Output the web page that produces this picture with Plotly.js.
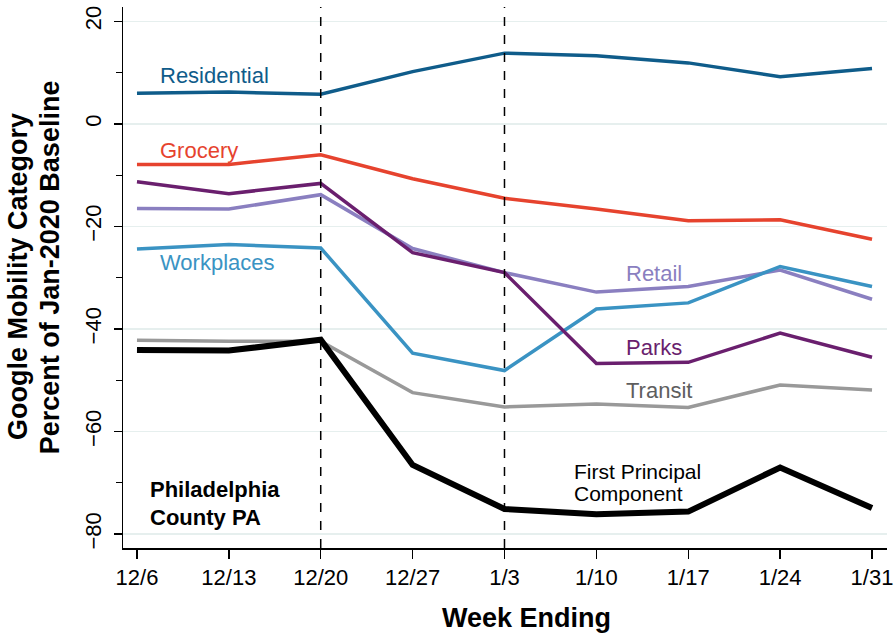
<!DOCTYPE html>
<html>
<head>
<meta charset="utf-8">
<script src="https://cdn.plot.ly/plotly-3.0.1.min.js"></script>
<style>html,body{margin:0;padding:0;background:#fff;}#chart{width:896px;height:636px;}</style>
</head>
<body>
<div id="chart"></div>
<script>
const weeks = ["12/6","12/13","12/20","12/27","1/3","1/10","1/17","1/24","1/31"];
const residential = [6.0, 6.2, 5.8, 10.2, 13.8, 13.3, 11.9, 9.2, 10.8];
const grocery = [-7.9, -7.9, -6.0, -10.7, -14.5, -16.6, -18.9, -18.7, -22.5];
const parks = [-11.3, -13.6, -11.6, -25.1, -29.0, -46.7, -46.5, -40.8, -45.5];
const retail = [-16.5, -16.6, -13.8, -24.3, -29.0, -32.8, -31.7, -28.5, -34.2];
const workplaces = [-24.4, -23.5, -24.2, -44.7, -48.1, -36.1, -34.9, -27.8, -31.7];
const transit = [-42.2, -42.4, -42.4, -52.4, -55.2, -54.6, -55.3, -50.9, -51.9];
const pc1 = [-44.1, -44.2, -42.1, -66.5, -75.1, -76.1, -75.6, -67.0, -74.9];
const yTicks = [20, 0, -20, -40, -60, -80];
const markerWeeks = ["12/20", "1/3"];

const idx = weeks.map((w, i) => i);
function line(y, color, width) {
  return {x: idx, y: y, type: "scatter", mode: "lines", line: {color: color, width: width}, hoverinfo: "skip"};
}
const traces = [
  line(transit, "#999999", 3.5),
  line(retail, "#8a7fc0", 3.5),
  line(workplaces, "#3a93c3", 3.5),
  line(parks, "#6a1f6e", 3.5),
  line(grocery, "#e6432e", 3.5),
  line(residential, "#0f5c8a", 3.5),
  line(pc1, "#000000", 6)
];

const font = "Liberation Sans, Arial, Helvetica, sans-serif";
const shapes = markerWeeks.map(w => ({
  type: "line", xref: "x", yref: "paper", x0: weeks.indexOf(w), x1: weeks.indexOf(w), y0: 0, y1: 1,
  line: {color: "#000", width: 1.5, dash: "dash"}
}));

function lab(text, xi, y, color, opts) {
  return Object.assign({x: xi, y: y, xref: "x", yref: "y", text: text, showarrow: false,
    xanchor: "left", yanchor: "middle", font: {family: font, size: 22, color: color}}, opts || {});
}
function ptitle(text, x, y, angle) {
  return {x: x, y: y, xref: "paper", yref: "paper", text: "<b>" + text + "</b>", showarrow: false,
    xanchor: "center", yanchor: "middle", textangle: angle, font: {family: font, size: 27, color: "#000"}};
}
const annotations = [
  lab("Residential", 0.23, 9.4, "#0f5c8a"),
  lab("Grocery", 0.23, -5.1, "#e6432e"),
  lab("Workplaces", 0.23, -27.0, "#3a93c3"),
  lab("Retail", 5.3, -29.2, "#8a7fc0"),
  lab("Parks", 5.3, -43.6, "#6a1f6e"),
  lab("Transit", 5.3, -52.0, "#5e5e5e"),
  lab("First Principal", 4.74, -67.8, "#000", {font: {family: font, size: 21, color: "#000"}}),
  lab("Component", 4.74, -72.1, "#000", {font: {family: font, size: 21, color: "#000"}}),
  lab("<b>Philadelphia</b>", 0.12, -71.3, "#000"),
  lab("<b>County PA</b>", 0.12, -76.8, "#000"),
  ptitle("Google Mobility Category", -0.1374, 0.501, -90),
  ptitle("Percent of Jan-2020 Baseline", -0.0955, 0.519, -90),
  ptitle("Week Ending", 0.5275, -0.1294, 0)
];

const layout = {
  width: 896, height: 636,
  margin: {l: 123, r: 9, t: 7, b: 88},
  paper_bgcolor: "#fff", plot_bgcolor: "#fff",
  showlegend: false,
  font: {family: font, size: 22, color: "#000"},
  xaxis: {
    range: [-0.152, 8.163],
    tickmode: "array", tickvals: idx, ticktext: weeks,
    ticks: "outside", ticklen: 9, tickwidth: 1.5, tickcolor: "#000",
    showline: true, linecolor: "#000", linewidth: 1.5,
    showgrid: false, zeroline: false,
    tickfont: {family: font, size: 22, color: "#000"}
  },
  yaxis: {
    range: [-82.7, 22.8],
    tickmode: "array", tickvals: yTicks, ticktext: yTicks.map(v => v < 0 ? "\u2212" + Math.abs(v) : String(v)),
    tickangle: -90,
    ticklabelstandoff: 4,
    ticks: "outside", ticklen: 8, tickwidth: 1.5, tickcolor: "#000",
    minor: {dtick: 10, ticks: "outside", ticklen: 6, tickwidth: 1.2, tickcolor: "#000", showgrid: false},
    showline: true, linecolor: "#000", linewidth: 1.5,
    showgrid: true, gridcolor: "#e6efee", gridwidth: 1.5,
    zeroline: false,
    tickfont: {family: font, size: 22, color: "#000"}
  },
  shapes: shapes,
  annotations: annotations
};

Plotly.newPlot("chart", traces, layout, {displayModeBar: false, staticPlot: true});
</script>
</body>
</html>
